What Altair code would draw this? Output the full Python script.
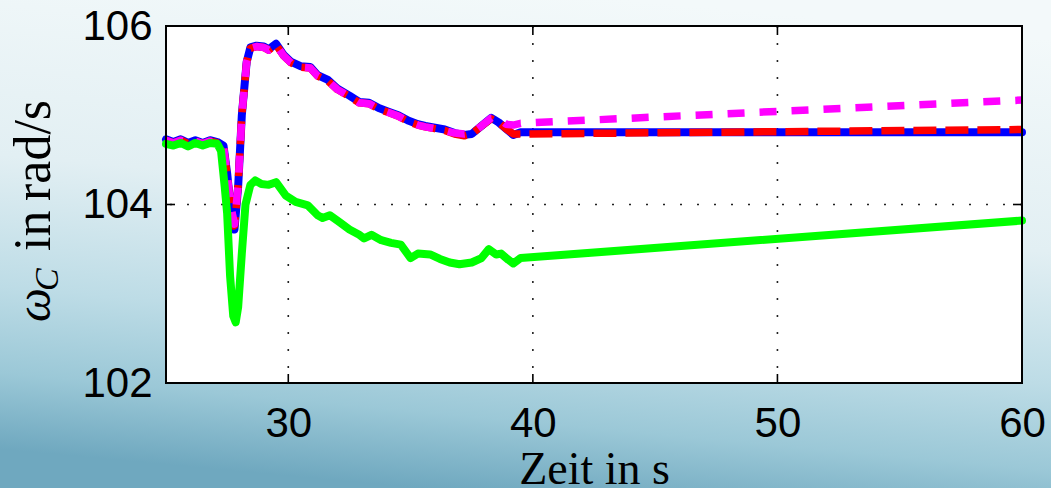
import altair as alt
import pandas as pd

# Simulated angular speed of the machine after a disturbance at t ~ 27.5 s
t_ref = [25.0, 25.3, 25.6, 25.9, 26.2, 26.5, 26.8, 27.1, 27.35, 27.5, 27.65, 27.8, 27.95, 28.1,
         28.3, 28.45, 28.7, 29.0, 29.2, 29.5, 29.8, 30.1, 30.5, 30.9, 31.2, 31.6, 32.0, 32.5,
         32.9, 33.3, 33.7, 34.1, 34.5, 34.9, 35.3, 35.6, 36.0, 36.4, 36.8, 37.2, 37.5, 37.9,
         38.3, 38.6, 38.9, 39.2, 39.5, 60.0]

w_blue = [104.73, 104.70, 104.73, 104.69, 104.72, 104.69, 104.72, 104.70, 104.66, 104.35,
          103.95, 103.72, 104.20, 105.00, 105.60, 105.76, 105.78, 105.77, 105.74, 105.80,
          105.68, 105.60, 105.55, 105.54, 105.45, 105.40, 105.30, 105.22, 105.15, 105.14,
          105.08, 105.04, 105.00, 104.94, 104.90, 104.88, 104.86, 104.84, 104.80, 104.78,
          104.79, 104.88, 104.97, 104.92, 104.85, 104.78, 104.81, 104.81]

w_red = [104.72, 104.69, 104.72, 104.68, 104.71, 104.68, 104.71, 104.69, 104.65, 104.33,
         103.97, 103.76, 104.22, 105.00, 105.60, 105.75, 105.77, 105.76, 105.73, 105.79,
         105.67, 105.59, 105.54, 105.53, 105.44, 105.39, 105.29, 105.21, 105.14, 105.13,
         105.07, 105.03, 104.99, 104.93, 104.89, 104.87, 104.85, 104.83, 104.79, 104.77,
         104.79, 104.88, 104.96, 104.92, 104.85, 104.79, 104.79, 104.84]

w_magenta = [104.72, 104.69, 104.72, 104.68, 104.71, 104.68, 104.71, 104.69, 104.65, 104.33,
             103.98, 103.78, 104.22, 105.00, 105.60, 105.75, 105.77, 105.76, 105.73, 105.79,
             105.67, 105.59, 105.54, 105.53, 105.44, 105.39, 105.29, 105.21, 105.14, 105.13,
             105.07, 105.03, 104.99, 104.93, 104.89, 104.87, 104.85, 104.83, 104.80, 104.79,
             104.80, 104.88, 104.97, 104.97, 104.90, 104.89, 104.91, 105.17]

t_low = [25.0, 25.3, 25.6, 25.9, 26.2, 26.5, 26.8, 27.1, 27.25, 27.4, 27.5, 27.62, 27.75, 27.85,
         27.95, 28.1, 28.25, 28.45, 28.65, 28.9, 29.2, 29.5, 29.9, 30.3, 30.8, 31.2, 31.4, 31.7,
         32.1, 32.5, 32.9, 33.1, 33.4, 33.8, 34.2, 34.6, 35.0, 35.3, 35.8, 36.2, 36.6, 37.0,
         37.5, 37.9, 38.2, 38.5, 38.7, 39.0, 39.2, 39.5, 60.0]

w_green = [104.68, 104.66, 104.69, 104.65, 104.69, 104.66, 104.69, 104.68, 104.60, 104.20,
           103.90, 103.20, 102.75, 102.68, 102.85, 103.45, 104.00, 104.22, 104.27, 104.23,
           104.22, 104.25, 104.10, 104.03, 103.99, 103.88, 103.85, 103.88, 103.80, 103.72,
           103.66, 103.62, 103.66, 103.60, 103.57, 103.55, 103.40, 103.45, 103.44, 103.39,
           103.35, 103.33, 103.35, 103.40, 103.50, 103.44, 103.45, 103.38, 103.34, 103.40,
           103.82]

x_ticks = [30, 40, 50, 60]
y_ticks = [102, 104, 106]
x_grid = [30, 40, 50]
y_grid = [104]

W, H = 856, 357
PAD = {"left": 166, "top": 26, "right": 29, "bottom": 105}

x_scale = alt.Scale(domain=[25, 60], nice=False, zero=False)
y_scale = alt.Scale(domain=[102, 106], nice=False, zero=False)

x_axis = alt.Axis(values=x_ticks, format="d", grid=False, domain=False, ticks=False,
                  labelFont="Liberation Sans", labelFontSize=42, labelColor="black",
                  labelPadding=20, labelFlush=False, labelOverlap=False,
                  title="Zeit in s", titleFont="Liberation Serif", titleFontSize=46,
                  titleFontWeight="normal", titleColor="black", titleY=100,
                  titleBaseline="alphabetic", zindex=1)
y_axis = alt.Axis(values=y_ticks, format="d", grid=False, domain=False, ticks=False,
                  labelFont="Liberation Sans", labelFontSize=42, labelColor="black",
                  labelPadding=14, labelFlush=False, labelOverlap=False, zindex=1)


def X(field):
    return alt.X(field, type="quantitative", scale=x_scale, axis=x_axis)


def Y(field):
    return alt.Y(field, type="quantitative", scale=y_scale, axis=y_axis, title=None)


one = pd.DataFrame({"k": [0]})

# page background: pale sky fading into blue-teal towards the bottom
gradient = {"gradient": "linear", "x1": 0.6, "y1": 0, "x2": 0.4, "y2": 1,
            "stops": [{"offset": 0.0, "color": "#f3f9fa"},
                      {"offset": 0.42, "color": "#e2eff3"},
                      {"offset": 0.68, "color": "#bddce6"},
                      {"offset": 0.85, "color": "#9bc8d7"},
                      {"offset": 1.0, "color": "#6fa8bf"}]}
background = alt.Chart(one).mark_rect(fill=gradient).encode(
    x=alt.value(-PAD["left"]), x2=alt.value(W + PAD["right"]),
    y=alt.value(-PAD["top"]), y2=alt.value(H + PAD["bottom"]))

plot_bg = alt.Chart(one).mark_rect(fill="white").encode(
    x=alt.value(0), x2=alt.value(W), y=alt.value(0), y2=alt.value(H))

grid_v = alt.Chart(pd.DataFrame({"t": x_grid})).mark_rule(
    color="#222222", strokeWidth=1.6, strokeDash=[2, 15]).encode(x=X("t"))
grid_h = alt.Chart(pd.DataFrame({"w": y_grid})).mark_rule(
    color="#222222", strokeWidth=1.6, strokeDash=[2, 15]).encode(y=Y("w"))


def curve(t, w, color, width, dash=None):
    df = pd.DataFrame({"t": t, "w": w})
    kw = dict(color=color, strokeWidth=width, interpolate="linear", strokeJoin="round")
    if dash:
        kw.update(strokeDash=dash, strokeCap="butt")
    else:
        kw.update(strokeCap="round")
    return alt.Chart(df).mark_line(**kw).encode(x=X("t"), y=Y("w"))


blue = curve(t_ref, w_blue, "#0000ff", 8)
red = curve(t_ref, w_red, "#ff0000", 7.5, [23, 9])
magenta = curve(t_ref, w_magenta, "#ff00ff", 7.5, [17, 15])
green = curve(t_low, w_green, "#00ff00", 8)

frame = alt.Chart(one).mark_rect(fillOpacity=0, stroke="black", strokeWidth=2).encode(
    x=alt.value(0), x2=alt.value(W), y=alt.value(0), y2=alt.value(H))

tick_len = 9
xt = pd.DataFrame({"t": x_ticks[:-1]})
yt = pd.DataFrame({"w": [104]})
tick_style = dict(color="black", strokeWidth=1.6)
ticks_bottom = alt.Chart(xt).mark_rule(**tick_style).encode(
    x=X("t"), y=alt.value(H), y2=alt.value(H - tick_len))
ticks_top = alt.Chart(xt).mark_rule(**tick_style).encode(
    x=X("t"), y=alt.value(0), y2=alt.value(tick_len))
ticks_left = alt.Chart(yt).mark_rule(**tick_style).encode(
    y=Y("w"), x=alt.value(0), x2=alt.value(tick_len))
ticks_right = alt.Chart(yt).mark_rule(**tick_style).encode(
    y=Y("w"), x=alt.value(W), x2=alt.value(W - tick_len))

# vertical axis title: omega with subscript C, then the unit words
title_x = -116
title_style = dict(font="Liberation Serif", angle=270, align="left",
                   baseline="alphabetic", color="black")
omega = alt.Chart(one).mark_text(text="ω", fontStyle="italic", fontSize=48,
                                 **title_style).encode(
    x=alt.value(title_x), y=alt.value(296))
sub_c = alt.Chart(one).mark_text(text="C", fontStyle="italic", fontSize=34,
                                 **title_style).encode(
    x=alt.value(title_x + 8), y=alt.value(265))
word_in = alt.Chart(one).mark_text(text="in", fontSize=52, **title_style).encode(
    x=alt.value(title_x), y=alt.value(225))
word_unit = alt.Chart(one).mark_text(text="rad/s", fontSize=52, **title_style).encode(
    x=alt.value(title_x), y=alt.value(175))

chart = alt.layer(
    background, plot_bg, grid_v, grid_h, blue, red, magenta, green,
    frame, ticks_bottom, ticks_top, ticks_left, ticks_right,
    omega, sub_c, word_in, word_unit
).properties(
    width=W, height=H, padding=PAD, autosize="none"
).configure_view(stroke=None)

chart.save("out.html", embed_options={"renderer": "svg", "actions": False})
